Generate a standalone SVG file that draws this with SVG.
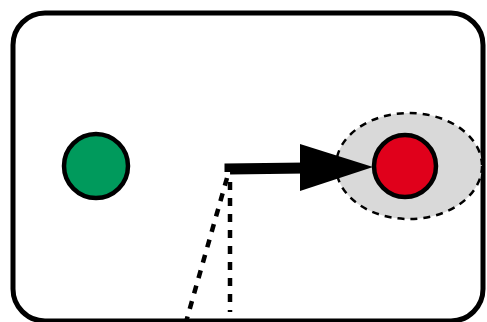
<svg xmlns="http://www.w3.org/2000/svg" width="487" height="322" viewBox="0 0 487 322">
  <style>
    .frame { fill: #ffffff; stroke: #000000; stroke-width: 5; }
    .node { stroke: #000000; stroke-width: 4.5; }
    .halo { fill: #d9d9d9; stroke: #000000; stroke-width: 2.5; stroke-dasharray: 7 6; }
    .dash { fill: none; stroke: #000000; stroke-width: 4.5; stroke-dasharray: 8 8; }
    .shaft { fill: none; stroke: #000000; stroke-width: 11; }
  </style>
  <rect class="frame" x="13" y="13" width="470" height="308" rx="32" ry="32"/>
  <g id="halo">
    <ellipse class="halo" cx="409" cy="166" rx="73" ry="53"/>
  </g>
  <g id="connectors">
    <path class="dash" d="M227,178 L186,322"/>
    <path class="dash" d="M230,182 L230,312"/>
    <path class="shaft" d="M230,172 L230,169 L306,168"/>
    <polygon points="300,144 373,167 300,191" fill="#000000"/>
  </g>
  <g id="green">
    <circle class="node" cx="96" cy="166" r="32" fill="#009a5c"/>
  </g>
  <g id="red">
    <circle class="node" cx="405" cy="166" r="31" fill="#e0001b"/>
  </g>
</svg>
